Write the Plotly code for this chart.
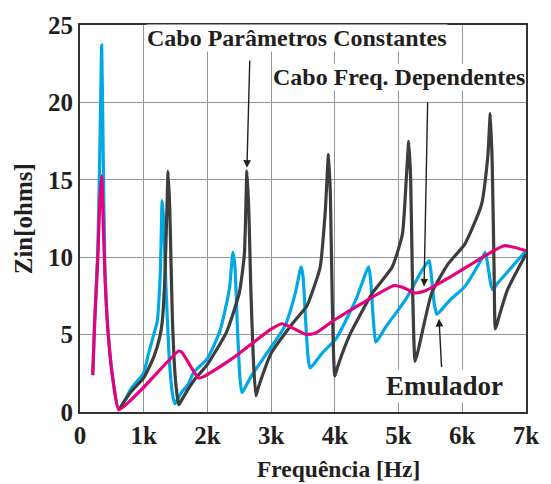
import plotly.graph_objects as go

# Input impedance versus frequency for three models
freq_emulador = [200, 230, 280, 320, 340, 360, 390, 440, 520, 610, 800, 1000, 1070, 1150, 1210, 1260,
                 1290, 1310, 1350, 1400, 1450, 1490, 1530, 1600, 1700, 1780, 2000, 2190, 2300, 2350,
                 2400, 2430, 2470, 2510, 2540, 2580, 2700, 2810, 3000, 3220, 3380, 3470, 3500, 3540,
                 3580, 3610, 3650, 3800, 4020, 4330, 4530, 4560, 4600, 4640, 4680, 4800, 5110, 5370,
                 5480, 5510, 5560, 5600, 5650, 5800, 6040, 6320, 6360, 6400, 6450, 6480, 6550, 6700, 7000]
zin_emulador = [2.38, 5.8, 10.5, 19.0, 23.7, 18.0, 9.5, 5.2, 2.0, 0.15, 1.5, 2.53, 3.69, 4.9, 5.8, 8.95,
                13.65, 12.5, 8.0, 3.5, 1.2, 0.53, 0.8, 1.3, 1.8, 2.53, 3.47, 5.16, 7.0, 8.11,
                10.32, 9.5, 5.5, 2.2, 1.26, 1.5, 2.4, 3.06, 4.2, 5.58, 7.69, 9.37, 8.8, 6.0,
                3.5, 2.84, 3.0, 3.8, 4.74, 7.26, 9.37, 8.6, 6.2, 4.53, 4.7, 5.5, 7.26, 9.16,
                9.79, 9.0, 7.0, 6.32, 6.5, 7.2, 8.11, 10.0, 10.32, 9.5, 8.2, 7.9, 8.3, 9.0, 10.42]

freq_constantes = [610, 800, 1000, 1160, 1250, 1290, 1330, 1360, 1383, 1410, 1450, 1500, 1550, 1600,
                   1700, 1800, 2000, 2300, 2500, 2580, 2620, 2650, 2680, 2720, 2760, 2800, 3000, 3330,
                   3560, 3640, 3770, 3850, 3900, 3930, 3960, 4000, 4050, 4230, 4590, 4900, 5060, 5120,
                   5160, 5190, 5220, 5260, 5320, 5520, 5780, 6040, 6300, 6400, 6440, 6470, 6500, 6520,
                   6580, 6710, 7000]
zin_constantes = [0.15, 1.3, 2.2, 3.58, 4.8, 5.8, 8.5, 12.5, 15.54, 13.0, 6.0, 2.0, 0.47, 0.8,
                  1.5, 2.1, 3.08, 5.16, 7.69, 10.2, 15.58, 13.0, 8.1, 3.5, 1.05, 1.6, 3.8, 5.69,
                  6.85, 7.69, 9.37, 13.0, 16.64, 14.0, 7.0, 2.32, 3.0, 4.95, 7.69, 9.37, 11.48, 15.0,
                  17.48, 15.0, 8.0, 3.27, 4.2, 7.69, 9.58, 10.85, 13.37, 16.5, 19.27, 16.0, 9.0, 5.37,
                  6.2, 7.9, 10.2]

freq_dependentes = [200, 230, 280, 310, 340, 370, 390, 440, 520, 610, 1000, 1550, 1600, 1700, 1860,
                    1950, 2370, 3000, 3170, 3300, 3560, 3700, 4000, 4500, 4930, 5100, 5240, 5400,
                    5800, 6240, 6660, 7000]
zin_dependentes = [2.38, 5.8, 10.0, 13.5, 15.27, 11.5, 8.95, 5.16, 2.0, 0.15, 1.6, 3.94, 3.85, 3.2, 2.2,
                   2.3, 3.4, 5.35, 5.7, 5.5, 5.0, 5.1, 5.96, 7.2, 8.17, 8.0, 7.69, 7.8,
                   8.7, 9.8, 10.74, 10.42]

x_tick_vals = [0, 1000, 2000, 3000, 4000, 5000, 6000, 7000]
x_tick_text = ["0", "1k", "2k", "3k", "4k", "5k", "6k", "7k"]
y_tick_vals = [0, 5, 10, 15, 20, 25]

FONT = "'Liberation Serif', 'Times New Roman', serif"
INK = "#231f20"

fig = go.Figure()
series = [
    (freq_emulador, zin_emulador, "#00a9e6", "Emulador"),
    (freq_constantes, zin_constantes, "#3d3d3d", "Cabo Parâmetros Constantes"),
    (freq_dependentes, zin_dependentes, "#e5007e", "Cabo Freq. Dependentes"),
]
for fx, fy, col, name in series:
    fig.add_trace(go.Scatter(x=fx, y=fy, mode="lines", name=name,
                             line=dict(color=col, width=3.2, shape="spline", smoothing=0.5)))

# arrow tips taken from the curves they label
i_pc = zin_constantes.index(max(zin_constantes[:25]))
tip_pc = (freq_constantes[i_pc], zin_constantes[i_pc])
tip_fd = (freq_dependentes[27], zin_dependentes[27])
i_em = freq_emulador.index(5600)
tip_em = (freq_emulador[i_em], zin_emulador[i_em])

label_font = dict(family=FONT, size=24, color=INK)
annotations = [
    dict(x=3400, y=24.15, text="<b>Cabo Parâmetros Constantes</b>", showarrow=False,
         font=label_font, bgcolor="white", xref="x", yref="y", borderpad=0),
    dict(x=5010, y=21.65, text="<b>Cabo Freq. Dependentes</b>", showarrow=False,
         font=label_font, bgcolor="white", xref="x", yref="y", borderpad=0),
    dict(x=5725, y=1.65, text="<b>Emulador</b>", showarrow=False,
         font=dict(family=FONT, size=27, color=INK), bgcolor="white", xref="x", yref="y"),
    dict(x=tip_pc[0], y=tip_pc[1] + 0.2, ax=2665, ay=22.8, axref="x", ayref="y",
         xref="x", yref="y", text="", showarrow=True, arrowhead=2, arrowsize=1.1,
         arrowwidth=1.4, arrowcolor=INK),
    dict(x=tip_fd[0], y=tip_fd[1] + 0.3, ax=5457, ay=20.1, axref="x", ayref="y",
         xref="x", yref="y", text="", showarrow=True, arrowhead=2, arrowsize=1.1,
         arrowwidth=1.4, arrowcolor=INK),
    dict(x=tip_em[0] + 35, y=tip_em[1] - 0.3, ax=5676, ay=2.8, axref="x", ayref="y",
         xref="x", yref="y", text="", showarrow=True, arrowhead=2, arrowsize=1.1,
         arrowwidth=1.4, arrowcolor=INK),
    dict(x=0.5 + 36 / 452, y=-0.148, xref="paper", yref="paper", showarrow=False,
         xanchor="center", yanchor="middle",
         text="<b>Frequência [Hz]</b>", font=dict(family=FONT, size=23.5, color=INK)),
    dict(x=-57 / 452, y=0.5, xref="paper", yref="paper", showarrow=False,
         xanchor="center", yanchor="middle", textangle=-90,
         text="<b>Zin[ohms]</b>", font=dict(family=FONT, size=25, color=INK)),
]

fig.update_layout(
    width=551, height=484,
    margin=dict(l=80, r=19, t=16, b=72),
    plot_bgcolor="white", paper_bgcolor="white",
    showlegend=False,
    annotations=annotations,
    font=dict(family=FONT, color=INK),
)
fig.update_xaxes(range=[0, 7000], tickvals=x_tick_vals, ticktext=[f"<b>{t}</b>" for t in x_tick_text],
                 tickfont=dict(family=FONT, size=25, color=INK),
                 showgrid=True, gridcolor="#8c96a1", gridwidth=1.2,
                 showline=True, linecolor="#333333", linewidth=2, mirror=True,
                 ticks="", zeroline=False)
fig.update_yaxes(range=[0, 25], tickvals=y_tick_vals, ticktext=[f"<b>{v}</b>" for v in y_tick_vals],
                 tickfont=dict(family=FONT, size=25, color=INK),
                 showgrid=True, gridcolor="#8c96a1", gridwidth=1.2,
                 showline=True, linecolor="#333333", linewidth=2, mirror=True,
                 ticks="", zeroline=False)

fig.write_html("out.html")
